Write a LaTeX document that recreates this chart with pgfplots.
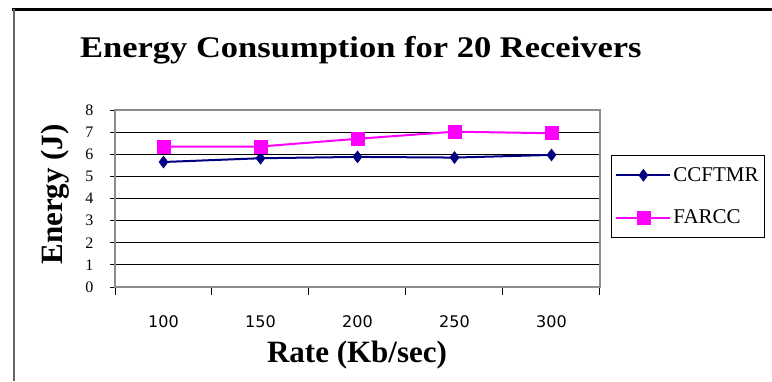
\documentclass[border=0pt]{standalone}
\usepackage{fontspec}
\setmainfont{Liberation Serif}
\newfontfamily\ticksans{DejaVu Sans}
\usepackage{pgfplots}
\pgfplotsset{compat=1.18}
\definecolor{ccnavy}{RGB}{0,0,128}
\definecolor{farmag}{RGB}{255,0,255}
\begin{document}
\begin{tikzpicture}
\path[use as bounding box] (0,0) rectangle (772pt,381pt);
\draw[black, line width=2.5pt] (12pt,371.5pt) -- (772pt,371.5pt);
\draw[black!60, line width=2pt] (13.5pt,372pt) -- (13.5pt,0pt);
\begin{axis}[
  at={(115pt,94pt)}, anchor=south west,
  scale only axis, width=485pt, height=177pt,
  xmin=-0.5, xmax=4.5, ymin=0, ymax=8,
  xtick={0,1,2,3,4},
  xticklabels={100,150,200,250,300},
  minor xtick={-0.5,0.5,1.5,2.5,3.5,4.5},
  ytick={0,1,2,3,4,5,6,7,8},
  major x tick style={draw=none},
  minor tick length=8pt,
  major tick length=5pt,
  tick align=outside,
  xtick pos=bottom, ytick pos=left,
  tick style={black, line width=1pt},
  ymajorgrids, grid style={black, line width=1.2pt},
  axis line style={black!45, line width=1.2pt},
  /pgf/number format/assume math mode=true,
  yticklabel style={font=\fontsize{16}{18}\selectfont, anchor=east, xshift=-13pt},
  xticklabel style={font=\ticksans\fontsize{16}{18}\selectfont, anchor=north, yshift=-20pt},
  title={\scalebox{1.15}[1]{Energy Consumption for 20 Receivers}},
  title style={font=\bfseries\fontsize{30}{36}\selectfont, at={(axis description cs:0.507,1.265)}, anchor=base},
  xlabel={Rate (Kb/sec)},
  xlabel style={font=\bfseries\fontsize{31}{36}\selectfont, at={(axis description cs:0.499,-0.429)}, anchor=base},
  ylabel={Energy (J)},
  ylabel style={font=\bfseries\fontsize{31}{36}\selectfont, at={(axis description cs:-0.109,0.523)}, anchor=base, rotate=0},
  legend style={at={(axis description cs:1.0227,0.745)}, anchor=north west, draw=black, line width=0.8pt,
    font=\fontsize{21}{24}\selectfont, inner xsep=4pt, inner ysep=10pt, row sep=23pt,
    legend cell align=left},
  legend image code/.code={\draw[mark repeat=2, mark phase=2] plot coordinates {(0pt,0pt) (27pt,0pt) (54pt,0pt)};},
  clip=false
]
\addplot[ccnavy, line width=2pt, mark=diamond*, mark size=6pt, mark options={solid, fill=ccnavy, line width=0.5pt}]
  coordinates {(0,5.65) (1,5.82) (2,5.88) (3,5.85) (4,5.97)};
\addlegendentry{CCFTMR}
\addplot[farmag, line width=2pt, mark=square*, mark size=6.5pt, mark options={solid, fill=farmag, line width=0.5pt}]
  coordinates {(0,6.35) (1,6.35) (2,6.70) (3,7.02) (4,6.95)};
\addlegendentry{FARCC}
\end{axis}
\end{tikzpicture}
\end{document}
